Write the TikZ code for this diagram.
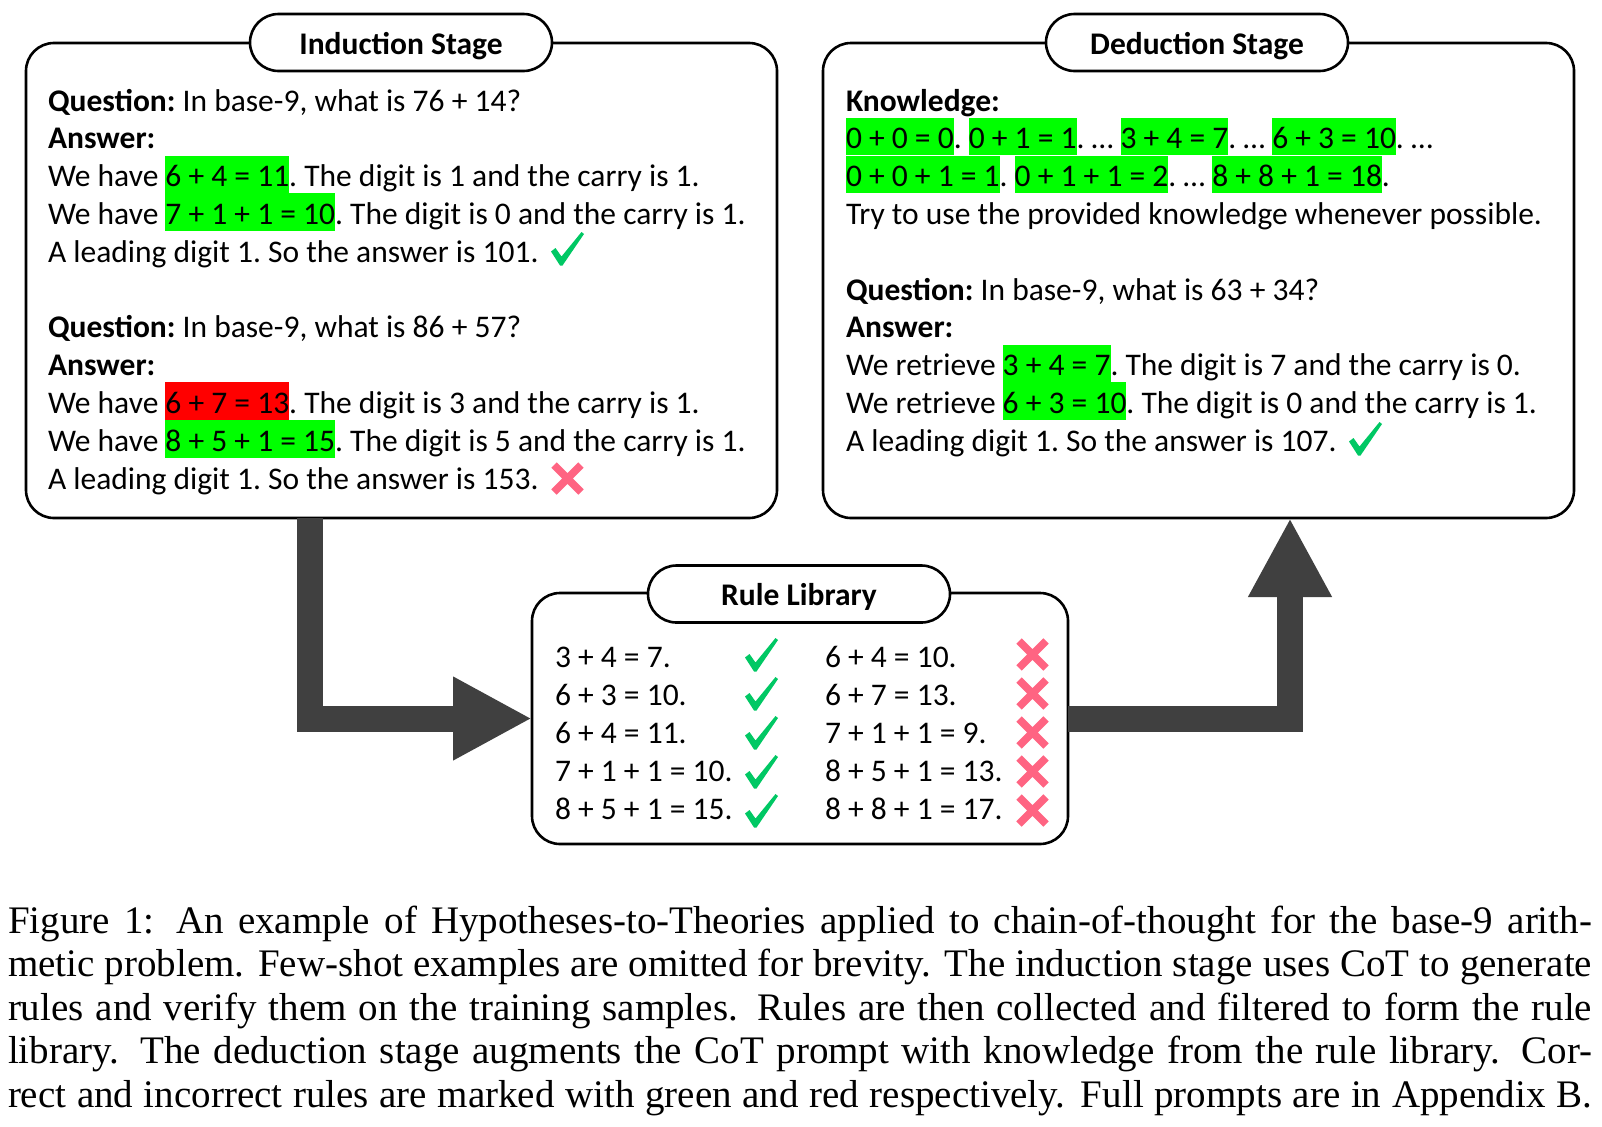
\documentclass[tikz,border=0pt]{standalone}
\usepackage{fontspec}
\setmainfont{Carlito}
\newfontfamily\capfont{Liberation Serif}
\usetikzlibrary{arrows.meta}
\definecolor{hlgreen}{HTML}{00FF00}
\definecolor{hlred}{HTML}{FF0000}
\definecolor{chkgreen}{HTML}{00C864}
\definecolor{xpink}{HTML}{FF6482}
\definecolor{arrowgray}{HTML}{404040}
\newcommand\bodyfont{\fontsize{31.5bp}{37.8bp}\selectfont\frenchspacing}
\newcommand\hlg[1]{{\setlength{\fboxsep}{0pt}\colorbox{hlgreen}{\rule[-6.5bp]{0pt}{37.5bp}#1}}}
\newcommand\hlr[1]{{\setlength{\fboxsep}{0pt}\colorbox{hlred}{\rule[-6.5bp]{0pt}{37.5bp}#1}}}
\tikzset{
  box/.style={draw, line width=2.6bp, rounded corners=28bp, fill=white, inner sep=0pt, outer sep=0pt},
  pill/.style={draw, line width=2.6bp, rounded corners=28.5bp, fill=white, minimum width=302bp,
    minimum height=57bp, inner sep=0pt, outer sep=0pt, font=\bodyfont\bfseries,
    text height=26bp, text depth=2.4bp},
  txt/.style={anchor=base west, inner sep=0pt, outer sep=0pt, font=\bodyfont},
  captxt/.style={anchor=base west, inner sep=0pt, outer sep=0pt, font=\capfont\fontsize{39bp}{43.6bp}\selectfont},
  flow/.style={line width=26bp, draw=arrowgray, line join=miter, -{Triangle[length=79bp,width=78bp,fill=arrowgray]}},
  chk/.pic={\fill[chkgreen] (0,19.5) -- (4.5,16) -- (10.5,24.5) -- (30.5,0) -- (33,2) -- (11.5,33.5) -- (9,33.5) -- cycle;},
  xmark/.pic={\draw[xpink, line width=7.5bp] (3,3) -- (30,30) (30,3) -- (3,30);}
}
\begin{document}
\begin{tikzpicture}[x=1bp,y=-1bp]
\useasboundingbox[fill=white] (0,0) rectangle (1602,1126);

% boxes
\node[box, minimum width=751bp, minimum height=475bp] (ind) at (401.5,280.5) {};
\node[box, minimum width=751bp, minimum height=475bp] (ded) at (1198.5,280.5) {};
\node[box, minimum width=536bp, minimum height=251bp] (lib) at (800,718.5) {};
\node[pill] (indT) at (401,42.5) {Induction Stage};
\node[pill] (dedT) at (1197,42.5) {Deduction Stage};
\node[pill] (libT) at (799,594) {Rule Library};

% connectors
\coordinate (a1) at (310,518);
\coordinate (a2) at (1290,518);
\draw[flow] (a1) |- (lib.west);
\draw[flow] (lib.east) -| (a2);

% induction text
\node[txt] (i1) at (48,111) {\textbf{Question:} In base-9, what is 76 + 14?};
\node[txt] (i2) at (48,148.8) {\textbf{Answer:}};
\node[txt] (i3) at (48,186.6) {We have \hlg{6 + 4 = 11}. The digit is 1 and the carry is 1.};
\node[txt] (i4) at (48,224.4) {We have \hlg{7 + 1 + 1 = 10}. The digit is 0 and the carry is 1.};
\node[txt] (i5) at (48,262.2) {A leading digit 1. So the answer is 101.};
\node[txt] (i6) at (48,337.8) {\textbf{Question:} In base-9, what is 86 + 57?};
\node[txt] (i7) at (48,375.6) {\textbf{Answer:}};
\node[txt] (i8) at (48,413.4) {We have \hlr{6 + 7 = 13}. The digit is 3 and the carry is 1.};
\node[txt] (i9) at (48,451.2) {We have \hlg{8 + 5 + 1 = 15}. The digit is 5 and the carry is 1.};
\node[txt] (i10) at (48,489) {A leading digit 1. So the answer is 153.};
\pic at (551,232) {chk};
\pic at (551,462) {xmark};

% deduction text
\node[txt] (d1) at (846,111) {\textbf{Knowledge:}};
\node[txt] (d2) at (846,148.8) {\hlg{0 + 0 = 0}. \hlg{0 + 1 = 1}. … \hlg{3 + 4 = 7}. … \hlg{6 + 3 = 10}. …};
\node[txt] (d3) at (846,186.6) {\hlg{0 + 0 + 1 = 1}. \hlg{0 + 1 + 1 = 2}. … \hlg{8 + 8 + 1 = 18}.};
\node[txt] (d4) at (846,224.4) {Try to use the provided knowledge whenever possible.};
\node[txt] (d5) at (846,300) {\textbf{Question:} In base-9, what is 63 + 34?};
\node[txt] (d6) at (846,337.8) {\textbf{Answer:}};
\node[txt] (d7) at (846,375.6) {We retrieve \hlg{3 + 4 = 7}. The digit is 7 and the carry is 0.};
\node[txt] (d8) at (846,413.4) {We retrieve \hlg{6 + 3 = 10}. The digit is 0 and the carry is 1.};
\node[txt] (d9) at (846,451.2) {A leading digit 1. So the answer is 107.};
\pic at (1349,422) {chk};

% rule library
\node[txt] (l1) at (555,667) {3 + 4 = 7.};
\node[txt] (l2) at (555,705) {6 + 3 = 10.};
\node[txt] (l3) at (555,743) {6 + 4 = 11.};
\node[txt] (l4) at (555,781) {7 + 1 + 1 = 10.};
\node[txt] (l5) at (555,819) {8 + 5 + 1 = 15.};
\node[txt] (l6) at (825,667) {6 + 4 = 10.};
\node[txt] (l7) at (825,705) {6 + 7 = 13.};
\node[txt] (l8) at (825,743) {7 + 1 + 1 = 9.};
\node[txt] (l9) at (825,781) {8 + 5 + 1 = 13.};
\node[txt] (l10) at (825,819) {8 + 8 + 1 = 17.};
\foreach \yy in {638,677,716,755,794} {
  \pic at (745,\yy) {chk};
  \pic at (1016,\yy) {xmark};
}

% caption
\node[captxt] (c1) at (8,933) {\makebox[1584bp][s]{Figure 1: An example of Hypotheses-to-Theories applied to chain-of-thought for the base-9 arith-}};
\node[captxt] (c2) at (8,976.6) {\makebox[1584bp][s]{metic problem. Few-shot examples are omitted for brevity. The induction stage uses CoT to generate}};
\node[captxt] (c3) at (8,1020.2) {\makebox[1584bp][s]{rules and verify them on the training samples. Rules are then collected and filtered to form the rule}};
\node[captxt] (c4) at (8,1063.8) {\makebox[1584bp][s]{library. The deduction stage augments the CoT prompt with knowledge from the rule library. Cor-}};
\node[captxt] (c5) at (8,1107.4) {\makebox[1584bp][s]{rect and incorrect rules are marked with green and red respectively. Full prompts are in Appendix B.}};
\end{tikzpicture}
\end{document}
